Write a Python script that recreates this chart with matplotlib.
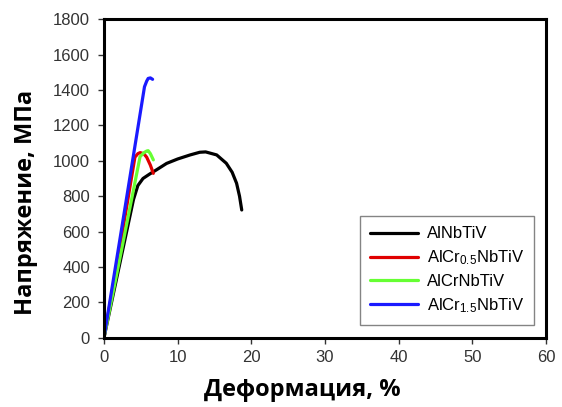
import matplotlib
matplotlib.use("Agg")
import matplotlib.pyplot as plt

plt.rcParams['font.family'] = ['Liberation Sans', 'DejaVu Sans']
plt.rcParams['mathtext.fontset'] = 'custom'
plt.rcParams['mathtext.rm'] = 'Liberation Sans'
plt.rcParams['mathtext.it'] = 'Liberation Sans'

# stress-strain curves (strain in %, stress in MPa)
strain_al = [0, 2.0, 4.0, 4.6, 5.3, 6.2, 7.1, 8.5, 10.0, 11.7, 13.0, 13.8, 15.3, 16.6, 17.4, 18.0, 18.4, 18.7]
stress_al = [0, 390, 780, 860, 900, 925, 948, 985, 1010, 1033, 1048, 1050, 1033, 986, 935, 873, 800, 722]

strain_cr05 = [0, 2.0, 4.2, 4.6, 4.9, 5.4, 5.8, 6.3, 6.7]
stress_cr05 = [0, 470, 1020, 1040, 1046, 1040, 1020, 975, 929]

strain_cr10 = [0, 2.5, 4.9, 5.4, 5.8, 6.0, 6.3, 6.7]
stress_cr10 = [0, 520, 1023, 1045, 1055, 1057, 1040, 1005]

strain_cr15 = [0, 2.8, 5.5, 5.8, 6.0, 6.3, 6.6]
stress_cr15 = [0, 720, 1418, 1450, 1465, 1468, 1460]

labels = ['AlNbTiV', r'AlCr$_{0.5}$NbTiV', 'AlCrNbTiV', r'AlCr$_{1.5}$NbTiV']
colors = ['#000000', '#e00000', '#66ff33', '#1a1aff']

fig = plt.figure(figsize=(5.62, 4.07), dpi=100)
ax = fig.add_axes([0.185, 0.170, 0.7865, 0.783])

curves = [(strain_al, stress_al), (strain_cr05, stress_cr05),
          (strain_cr10, stress_cr10), (strain_cr15, stress_cr15)]
for (x, y), lab, c in zip(curves, labels, colors):
    ax.plot(x, y, color=c, lw=2.3, label=lab, solid_capstyle='round')

ax.set_xlim(0, 60)
ax.set_ylim(0, 1800)
ax.set_xticks(range(0, 61, 10))
ax.set_yticks(range(0, 1801, 200))
ax.tick_params(direction='out', length=4, width=1, labelsize=12,
               colors='#333333', pad=6)
ax.tick_params(axis='x', pad=5)

for s in ax.spines.values():
    s.set_linewidth(2.2)
    s.set_color('black')

lab_font = dict(family=['Open Sans', 'DejaVu Sans'], fontsize=17, fontweight='bold')
ax.set_xlabel('Деформация, %', **lab_font)
ax.set_ylabel('Напряжение, МПа', **lab_font)
ax.xaxis.set_label_coords(0.448, -0.125)
ax.yaxis.set_label_coords(-0.15, 0.426)

leg = ax.legend(loc='lower right', bbox_to_anchor=(0.973, 0.041), borderaxespad=0,
                fontsize=12, frameon=True, fancybox=False, edgecolor='#666666',
                handlelength=2.9, handletextpad=0.5, borderpad=0.6,
                labelspacing=0.42)
leg.get_frame().set_linewidth(1.0)

fig.savefig('out.png', dpi=100)
